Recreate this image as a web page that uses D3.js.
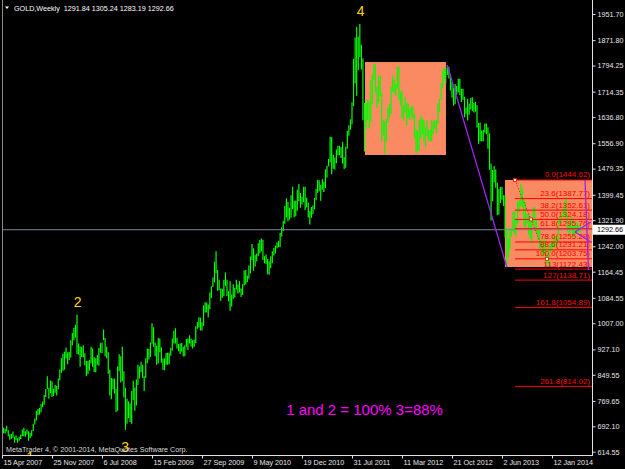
<!DOCTYPE html>
<html><head><meta charset="utf-8">
<script src="https://cdn.jsdelivr.net/npm/d3@7"></script>
<style>html,body{margin:0;padding:0;background:#000;overflow:hidden}</style>
</head><body><svg id="c" width="625" height="469"></svg>
<script>
// ---- data ----
const firstWeek = "2007-04-15";
const highs = [
693,688,685,694,680,668,669,676,661,664,
656,660,667,682,688,677,682,677,672,680,
700,716,740,745,748,760,768,788,806,845,
810,832,830,807,818,815,838,866,
900,914,920,933,918,920,955,977,993,1002,
1034,945,936,935,940,915,892,892,895,935,
930,904,900,910,931,946,948,988,962,935,
918,865,840,838,838,806,875,912,906,935,
860,810,776,768,762,800,831,811,835,880,875,889,
880,845,900,930,928,948,1007,995,948,938,
962,960,934,899,900,916,917,917,932,960,
984,992,963,944,945,947,935,940,959,960,
970,960,955,957,998,1011,1025,1024,1010,1062,
1071,1070,1064,1101,1120,1147,1195,1227,1170,1140,1113,1112,
1139,1162,1140,1105,1135,1095,1126,1115,1140,1125,
1136,1113,1127,1168,1170,1153,1183,1211,1249,1236,
1216,1220,1251,1261,1266,1262,1212,1217,1203,1196,
1212,1227,1237,1244,1254,1259,1283,1300,1320,1365,
1388,1377,1360,1398,1424,1381,1382,1415,1432,1405,1393,1424,
1424,1390,1376,1349,1362,1367,1390,1417,1445,1444,
1430,1447,1439,1477,1488,1509,1577,1575,1522,1513,
1538,1549,1549,1545,1561,1515,1546,1595,1612,1630,
1681,1815,1880,1912,1882,1921,1858,1816,1680,1680,
1690,1685,1750,1766,1802,1797,1730,1764,1763,1710,1628,1624,
1630,1665,1678,1730,1764,1752,1738,1790,1792,1714,
1718,1672,1699,1680,1678,1660,1668,1670,1646,1599,
1596,1627,1641,1633,1628,1605,1626,1600,1597,1627,
1625,1626,1627,1679,1692,1742,1779,1787,1786,1796,
1790,1759,1744,1726,1738,1732,1754,1754,1723,1723,1699,1665,1693,
1678,1695,1697,1680,1683,1673,1619,1620,1596,1598,
1617,1617,1606,1587,1495,1475,1487,1477,1436,1416,
1423,1424,1398,1398,1298,1268,1298,1298,1349,1347,
1322,1378,1384,1434,1421,1390,1376,1343,1339,1330,
1329,1361,1361,1326,1295,1293,1261,1253,1267,1258,1218,1240,
1251,1256,1270,1274,1270,1320,1332,1345,1355,1381,
1392,1340,1308,1332,1331,1304,1315,1316,1306,1305.24
];
const lows = [
676,671,670,676,662,651,654,657,642,650,
642,648,653,662,662,660,667,648,656,662,
678,698,710,726,728,735,750,758,782,806,
776,793,782,785,795,786,805,833,
856,862,865,900,882,895,902,940,955,963,
913,911,874,904,902,878,845,851,862,885,
874,858,857,880,877,917,915,955,906,900,
853,786,775,805,792,736,740,860,826,830,
780,681,700,717,705,700,772,740,756,818,838,857,
840,800,840,885,896,904,944,935,906,880,
884,918,886,865,863,880,880,882,908,924,
945,945,930,921,913,920,905,906,935,925,
945,936,930,935,947,990,994,985,984,999,
1040,1040,1025,1050,1084,1118,1132,1160,1106,1108,1075,1085,
1090,1121,1090,1074,1045,1058,1082,1086,1110,1098,
1101,1087,1093,1122,1125,1132,1143,1159,1200,1167,
1180,1196,1212,1220,1226,1200,1190,1188,1157,1155,
1175,1190,1214,1220,1236,1239,1240,1272,1289,1311,
1330,1318,1323,1329,1355,1331,1334,1351,1380,1360,1370,1377,
1353,1361,1330,1309,1329,1340,1355,1383,1406,1410,
1381,1415,1408,1420,1452,1486,1499,1462,1479,1477,
1496,1520,1520,1512,1495,1478,1482,1541,1580,1598,
1615,1670,1739,1702,1780,1820,1782,1627,1532,1600,
1628,1602,1622,1675,1750,1712,1664,1680,1702,1563,1580,1523,
1564,1620,1636,1646,1715,1710,1702,1724,1688,1673,
1634,1626,1650,1612,1636,1628,1638,1631,1573,1527,
1533,1533,1571,1584,1562,1545,1578,1565,1564,1562,
1585,1600,1588,1618,1652,1690,1725,1752,1740,1765,
1755,1718,1696,1672,1676,1705,1712,1704,1683,1690,1636,1647,1626,
1644,1660,1655,1651,1653,1605,1555,1564,1562,1563,
1590,1584,1540,1476,1321,1380,1438,1421,1338,1339,
1374,1384,1365,1269,1180,1208,1232,1270,1285,1280,
1273,1311,1347,1364,1362,1305,1296,1311,1277,1266,
1251,1313,1301,1280,1262,1237,1221,1211,1221,1185,1191,1182,
1223,1230,1238,1238,1239,1260,1310,1316,1330,1337,
1322,1287,1277,1290,1277,1268,1277,1280,1285,1283.19
];
const yTickValues = [1951.70,1871.80,1794.25,1714.35,1636.80,1556.90,1479.35,1399.45,1321.90,1242.00,1164.45,1084.55,1007.00,927.10,849.55,769.65,692.10,614.55];
const xTickDates = ["2007-04-15","2007-11-25","2008-07-06","2009-02-15","2009-09-27","2010-05-09","2010-12-19","2011-07-31","2012-03-11","2012-10-21","2013-06-02","2014-01-12"];
const xTickLabels = ["15 Apr 2007","25 Nov 2007","6 Jul 2008","15 Feb 2009","27 Sep 2009","9 May 2010","19 Dec 2010","31 Jul 2011","11 Mar 2012","21 Oct 2012","2 Jun 2013","12 Jan 2014"];
const headerText = "GOLD,Weekly  1291.84 1305.24 1283.19 1292.66";
const lastPrice = 1292.66;
const fibNames = ["0.0","23.6","38.2","50.0","61.8","78.6","88.6","100.0","113","127","161.8","261.8"];
const fibPrices = [1444.62,1387.77,1352.61,1324.18,1295.76,1255.29,1231.21,1203.75,1172.43,1138.71,1054.89,814.02];
const fibAnchorDates = ["2013-07-30","2013-12-20"];
const fibAnchorPrices = [1444.62,1203.75];
const boxDates = [["2011-09-27","2012-09-24"],["2013-06-15","2014-09-01"]];
const boxPrices = [[1805,1521],[1444.62,1178.8]];
const purpleDates = [["2012-09-30","2013-06-23"],["2014-06-09","2014-06-24"],["2014-04-25","2014-07-05"],["2014-04-25","2014-07-05"]];
const purplePrices = [[1796,1180],[1444.6,1169.6],[1285.7,1316.3],[1285.7,1255.2]];
const waveNames = ["1","2","3","4"];
const waveDates = ["2007-08-19","2008-03-19","2008-10-18","2011-09-08"];
const wavePrices = [598,1073,629,1961];
const noteText = "1 and 2 = 100% 3=88%";
const noteDate = "2010-10-09";
const notePrice = 727;
const copyright = "MetaTrader 4, \u00a9 2001-2014, MetaQuotes Software Corp.";

// ---- setup ----
const P = d3.utcParse("%Y-%m-%d");
const svg = d3.select("#c");
const FONT = "'Liberation Sans', Arial, sans-serif";
const L = 2, R = 592, B = 455;
const x = d3.scaleUtc().domain([P("2007-04-15"), P("2014-01-12")]).range([2, 552]);
const y = d3.scaleLinear().domain([614.55, 1951.70]).range([451.7, 14]);

svg.append("rect").attr("width",625).attr("height",469).attr("fill","#000");
svg.append("defs").append("clipPath").attr("id","plot")
  .append("rect").attr("x",L).attr("y",0).attr("width",R-L).attr("height",B);
const g = svg.append("g").attr("clip-path","url(#plot)");

// boxes
boxDates.forEach((d,i)=>{
  const x0 = x(P(d[0])), x1 = x(P(d[1]));
  const y0 = y(boxPrices[i][0]), y1 = y(boxPrices[i][1]);
  g.append("rect").attr("x",x0).attr("y",y0).attr("width",x1-x0).attr("height",y1-y0)
   .attr("fill","#fa8a62");
});

// bars
const start = P(firstWeek);
const bars = highs.map((h,i)=>({d:d3.utcWeek.offset(start,i),h:h,l:lows[i]}));
g.selectAll("line.bar").data(bars).enter().append("line").attr("class","bar")
  .attr("x1",d=>x(d.d)).attr("x2",d=>x(d.d))
  .attr("y1",d=>y(d.h)).attr("y2",d=>y(d.l))
  .attr("stroke","#00ff00").attr("stroke-width",1.2);

// price line
g.append("line").attr("x1",L).attr("x2",R).attr("y1",y(lastPrice)).attr("y2",y(lastPrice))
  .attr("stroke","#778899").attr("stroke-width",1);

// fib levels
const fx = x(P(fibAnchorDates[0]));
fibPrices.forEach((p,i)=>{
  g.append("line").attr("x1",fx).attr("x2",R).attr("y1",y(p)).attr("y2",y(p))
   .attr("stroke","#ff0000").attr("stroke-width",1);
  g.append("text").attr("x",590).attr("y",y(p)-2.5).attr("text-anchor","end")
   .attr("font-family",FONT).attr("font-size",8).attr("fill","#ff0000")
   .text(fibNames[i]+"("+p.toFixed(2)+")");
});
// fib trend (dotted) with markers
const fa = fibAnchorDates.map((d,i)=>[x(P(d)), y(fibAnchorPrices[i])]);
g.append("line").attr("x1",fa[0][0]).attr("y1",fa[0][1]).attr("x2",fa[1][0]).attr("y2",fa[1][1])
  .attr("stroke","#ff0000").attr("stroke-dasharray","1,2");
[fa[0],[(fa[0][0]+fa[1][0])/2,(fa[0][1]+fa[1][1])/2],fa[1]].forEach(pt=>{
  g.append("rect").attr("x",pt[0]-1.5).attr("y",pt[1]-1.5).attr("width",3).attr("height",3)
   .attr("fill","#fff").attr("stroke","#ff0000").attr("stroke-width",0.8);
});

// purple lines
purpleDates.forEach((d,i)=>{
  g.append("line").attr("x1",x(P(d[0]))).attr("y1",y(purplePrices[i][0]))
   .attr("x2",x(P(d[1]))).attr("y2",y(purplePrices[i][1]))
   .attr("stroke","#a020f0").attr("stroke-width",1.3);
});

// wave labels
waveNames.forEach((n,i)=>{
  g.append("text").attr("x",x(P(waveDates[i]))).attr("y",y(wavePrices[i]))
   .attr("text-anchor","middle").attr("dominant-baseline","central")
   .attr("font-family",FONT).attr("font-size",14).attr("fill","#ffd700").text(n);
});

// note
g.append("text").attr("x",x(P(noteDate))).attr("y",y(notePrice))
  .attr("font-family",FONT).attr("font-size",15).attr("fill","#ff00ff").text(noteText);

// copyright
svg.append("text").attr("x",6).attr("y",451.5).attr("font-family",FONT).attr("font-size",7.2)
  .attr("fill","#d8d8d8").text(copyright);

// header
svg.append("path").attr("d","M5,6.5 L9,6.5 L7,9 Z").attr("fill","#fff");
svg.append("text").attr("x",14).attr("y",10.5).attr("font-family",FONT).attr("font-size",7.2)
  .attr("fill","#fff").attr("xml:space","preserve").style("white-space","pre").text(headerText);

// frame
svg.append("line").attr("x1",2.5).attr("x2",2.5).attr("y1",0).attr("y2",B).attr("stroke","#8a8a8a");
svg.append("line").attr("x1",L).attr("x2",R+0.5).attr("y1",B+0.5).attr("y2",B+0.5).attr("stroke","#e0e0e0");
svg.append("line").attr("x1",R+0.5).attr("x2",R+0.5).attr("y1",0).attr("y2",B+1).attr("stroke","#e0e0e0");

// y axis
const yAxis = d3.axisRight(y).tickValues(yTickValues).tickSize(3).tickPadding(2).tickFormat(d3.format(".2f"));
const ya = svg.append("g").attr("transform",`translate(${R+0.5},0)`).call(yAxis);
ya.select(".domain").remove();
ya.selectAll("line").attr("stroke","#e0e0e0");
ya.selectAll("text").attr("fill","#e8e8e8").attr("font-family",FONT).attr("font-size",7.2);

// x axis
const xAxis = d3.axisBottom(x).tickValues(xTickDates.map(P)).tickSize(3)
  .tickFormat((d,i)=>xTickLabels[i]);
const xa = svg.append("g").attr("transform",`translate(0,${B+0.5})`).call(xAxis);
xa.select(".domain").remove();
xa.selectAll("line").attr("stroke","#e0e0e0");
xa.selectAll("text").attr("fill","#e8e8e8").attr("font-family",FONT).attr("font-size",7.2)
  .attr("text-anchor","start").attr("x",1).attr("y",4).attr("dy","0.71em");

// last price label
svg.append("rect").attr("x",593).attr("y",y(lastPrice)-5).attr("width",32).attr("height",10).attr("fill","#fff");
svg.append("text").attr("x",597).attr("y",y(lastPrice)).attr("dominant-baseline","central")
  .attr("font-family",FONT).attr("font-size",7.2).attr("fill","#000").text(lastPrice.toFixed(2));
</script></body></html>
